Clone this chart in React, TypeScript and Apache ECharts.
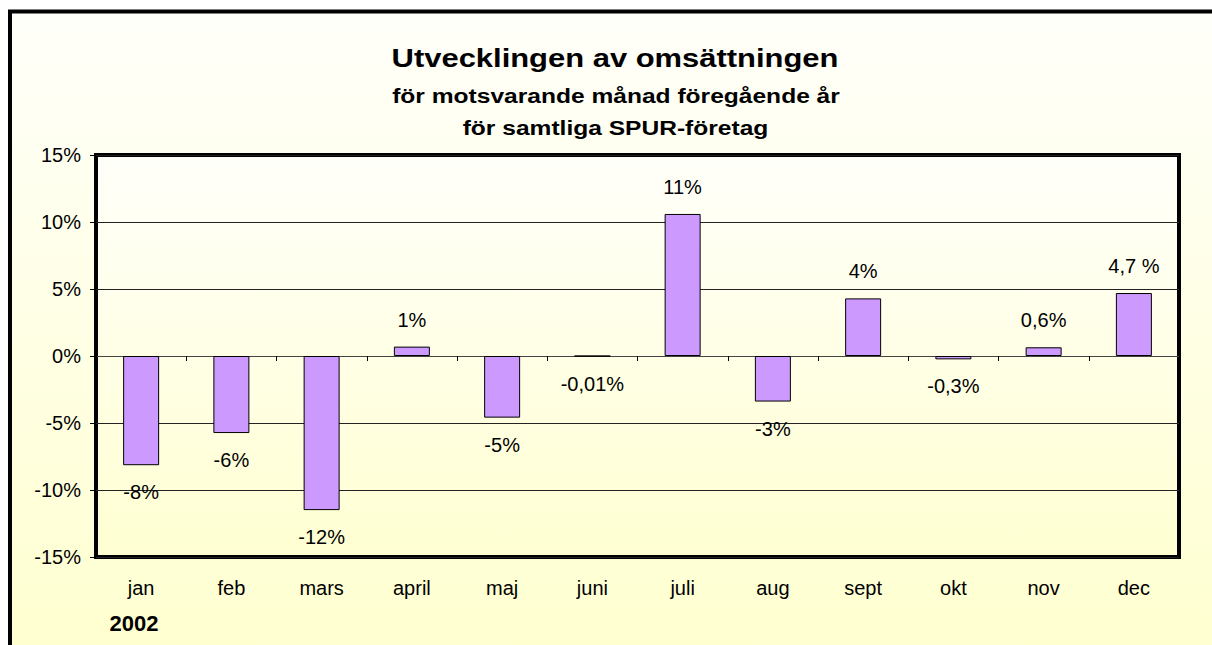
import React, { useEffect, useRef } from "react";
import * as echarts from "echarts";

const categories = ["jan", "feb", "mars", "april", "maj", "juni", "juli", "aug", "sept", "okt", "nov", "dec"];
const values = [-8.15, -5.75, -11.5, 0.7, -4.6, -0.01, 10.6, -3.4, 4.3, -0.25, 0.65, 4.7];
const valueLabels = ["-8%", "-6%", "-12%", "1%", "-5%", "-0,01%", "11%", "-3%", "4%", "-0,3%", "0,6%", "4,7 %"];
const yMin = -15;
const yMax = 15;
const yStep = 5;
const titleLines = [
  "Utvecklingen av omsättningen",
  "för motsvarande månad föregående år",
  "för samtliga SPUR-företag",
];
const yearLabel = "2002";

const FONT = "'Liberation Sans', Arial, sans-serif";

export default function App() {
  const ref = useRef<HTMLDivElement>(null);
  useEffect(() => {
    if (!ref.current) return;
    const chart = echarts.init(ref.current, null, { renderer: "svg" });
    const option: any = {
      animation: false,
      backgroundColor: "#ffffff",
      textStyle: { fontFamily: FONT },
      graphic: [
        {
          type: "rect",
          z: -10,
          silent: true,
          shape: { x: 10, y: 11.5, width: 1240, height: 700 },
          style: {
            fill: new echarts.graphic.LinearGradient(0, 0, 0, 1, [
              { offset: 0, color: "#fffffa" },
              { offset: 1, color: "#ffffcc" },
            ]),
            stroke: "#000",
            lineWidth: 4,
          },
        },
        {
          type: "text",
          z: 10,
          x: 615,
          y: 57.5,
          scaleX: 1.19,
          style: {
            text: titleLines[0],
            fontSize: 26,
            fontWeight: "bold",
            fontFamily: FONT,
            fill: "#000",
            align: "center",
            verticalAlign: "middle",
          },
        },
        {
          type: "text",
          z: 10,
          x: 616,
          y: 95.5,
          scaleX: 1.17,
          style: {
            text: titleLines[1],
            fontSize: 21,
            fontWeight: "bold",
            fontFamily: FONT,
            fill: "#000",
            align: "center",
            verticalAlign: "middle",
          },
        },
        {
          type: "text",
          z: 10,
          x: 615.5,
          y: 127.5,
          scaleX: 1.17,
          style: {
            text: titleLines[2],
            fontSize: 21,
            fontWeight: "bold",
            fontFamily: FONT,
            fill: "#000",
            align: "center",
            verticalAlign: "middle",
          },
        },
        {
          type: "text",
          z: 10,
          x: 134,
          y: 623.5,
          style: {
            text: yearLabel,
            fontSize: 22,
            fontWeight: "bold",
            fontFamily: FONT,
            fill: "#000",
            align: "center",
            verticalAlign: "middle",
          },
        },
      ],
      grid: {
        left: 96,
        right: 33,
        top: 155,
        bottom: 88,
        show: true,
        borderColor: "#000",
        borderWidth: 4,
        backgroundColor: new echarts.graphic.LinearGradient(0, 0, 0, 1, [
          { offset: 0, color: "#fffffa" },
          { offset: 1, color: "#ffffd2" },
        ]),
      },
      xAxis: [
        {
          type: "category",
          data: categories,
          position: "top",
          axisLine: { show: true, onZero: true, lineStyle: { color: "#444", width: 1 } },
          axisTick: { show: true, inside: true, length: 5, lineStyle: { color: "#000", width: 1 } },
          axisLabel: { show: false },
          splitLine: { show: false },
        },
        {
          type: "category",
          data: categories,
          position: "bottom",
          axisLine: { show: false, onZero: false },
          axisTick: { show: false },
          axisLabel: { show: true, margin: 21, fontSize: 20, color: "#000", fontFamily: FONT },
          splitLine: { show: false },
        },
      ],
      yAxis: {
        type: "value",
        min: yMin,
        max: yMax,
        interval: yStep,
        axisLine: { show: false },
        axisTick: { show: true, length: 6, lineStyle: { color: "#000", width: 1 } },
        axisLabel: {
          fontSize: 20,
          color: "#000",
          margin: 15,
          fontFamily: FONT,
          formatter: (v: number) => `${v}%`,
        },
        splitLine: { show: true, lineStyle: { color: "#222", width: 1 } },
      },
      series: [
        {
          type: "bar",
          xAxisIndex: 0,
          barWidth: 36,
          itemStyle: { color: "#cc99ff", borderColor: "#000", borderWidth: 1 },
          label: {
            show: true,
            fontSize: 20,
            color: "#000",
            fontFamily: FONT,
            distance: 17,
          },
          data: values.map((v, i) => ({
            value: v,
            label: { position: v < 0 ? "bottom" : "top", formatter: valueLabels[i] },
          })),
        },
      ],
    };
    chart.setOption(option);
    return () => chart.dispose();
  }, []);
  return (
    <div
      ref={ref}
      style={{ position: "fixed", left: 0, top: 0, width: 1212, height: 645 }}
    />
  );
}
